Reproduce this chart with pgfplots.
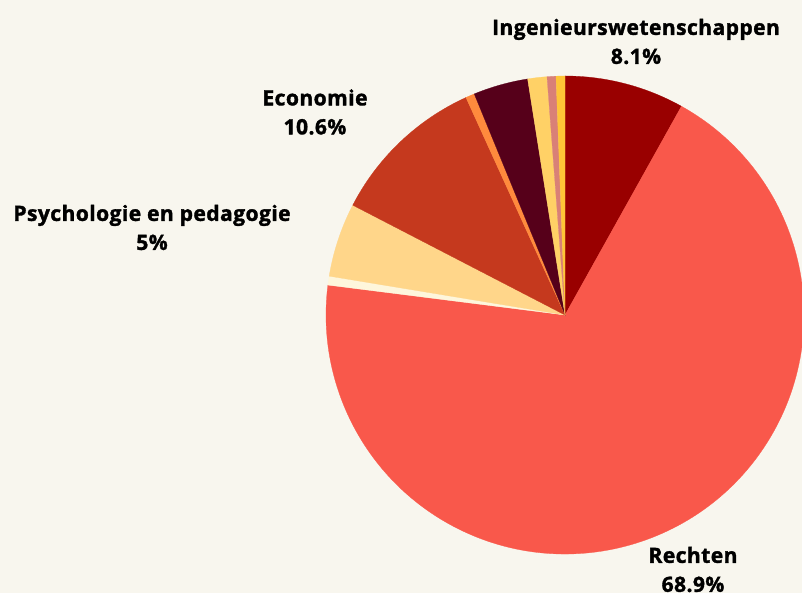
\documentclass[border=0pt]{standalone}
\usepackage{pgfplots}
\pgfplotsset{compat=1.18}
\usepackage{pgfplotstable}
\usepackage{fontspec}
\setmainfont{Open Sans}[BoldFeatures={FakeBold=1.6, LetterSpace=2}]
\definecolor{bgcol}{HTML}{F8F6EE}
\definecolor{slice0}{HTML}{990000}
\definecolor{slice1}{HTML}{F9584B}
\definecolor{slice2}{HTML}{FEF6DC}
\definecolor{slice3}{HTML}{FFD68A}
\definecolor{slice4}{HTML}{C5391E}
\definecolor{slice5}{HTML}{FF8A3D}
\definecolor{slice6}{HTML}{56001A}
\definecolor{slice7}{HTML}{FFD166}
\definecolor{slice8}{HTML}{D98077}
\definecolor{slice9}{HTML}{FFC537}
% shares in percent, clockwise from 12 o'clock
\pgfplotstableread{
idx share
0 8.1
1 68.9
2 0.6
3 5.0
4 10.6
5 0.6
6 3.7
7 1.3
8 0.6
9 0.6
}\piedata
\begin{document}
\begin{tikzpicture}
\begin{axis}[
  scale only axis, width=601.5pt, height=444.75pt,
  xmin=0, xmax=802, ymin=0, ymax=593, enlargelimits=false,
  axis line style={draw=none}, ticks=none,
  axis background/.style={fill=bgcol},
  clip=true,
]
\def\cum{90}
\pgfplotsforeachungrouped \i in {0,...,9}{%
  \pgfplotstablegetelem{\i}{share}\of\piedata
  \pgfmathsetmacro\a{\cum}%
  \pgfmathsetmacro\b{\cum-3.6*\pgfplotsretval}%
  \pgfmathsetmacro\sx{565+239*cos(\a)}%
  \pgfmathsetmacro\sy{278+239*sin(\a)}%
  \edef\temp{\noexpand\addplot[fill=slice\i, draw=slice\i, line width=0.2pt] coordinates {(565,278) (\sx,\sy)} arc[start angle=\a, end angle=\b, radius=179.25pt] -- cycle;}%
  \temp
  \global\let\cum\b
}
\tikzset{lbl/.style={align=center, font=\bfseries\fontsize{15.8}{21.75}\selectfont, text=black, inner sep=0pt}}
\node[lbl] at (axis cs:636,551.5) {Ingenieurswetenschappen\\8.1\%};
\node[lbl] at (axis cs:315,481) {Economie\\10.6\%};
\node[lbl] at (axis cs:152,365.5) {Psychologie en pedagogie\\5\%};
\node[lbl] at (axis cs:693,23.5) {Rechten\\68.9\%};
\end{axis}
\pgfresetboundingbox
\path[use as bounding box] (current axis.south west) rectangle (current axis.north east);
\end{tikzpicture}
\end{document}
